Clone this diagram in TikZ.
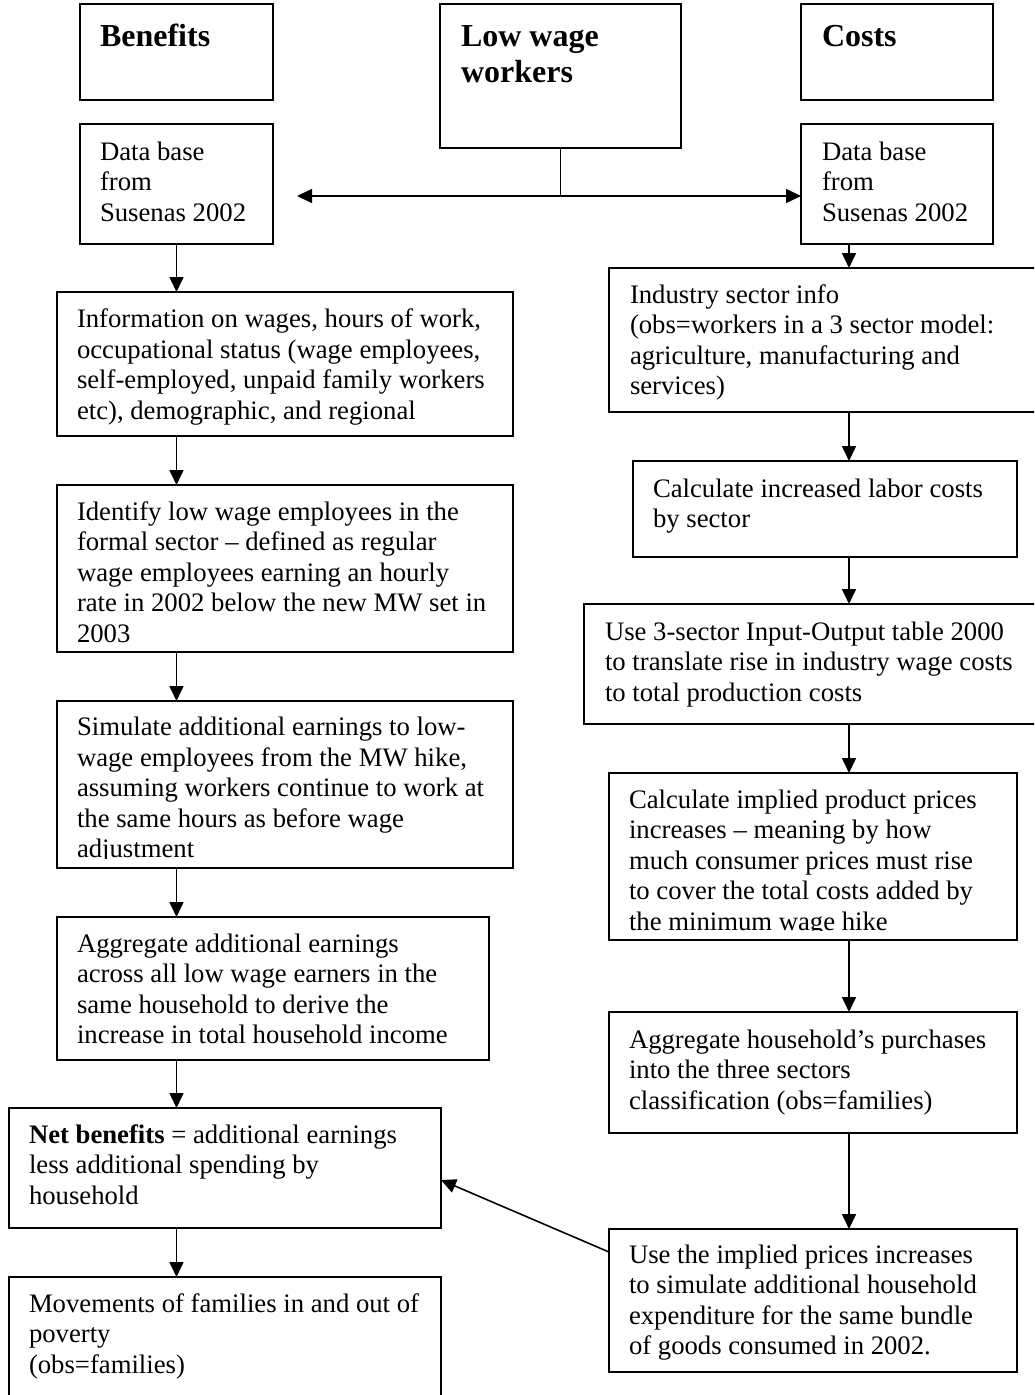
\documentclass[tikz,border=0pt]{standalone}
\usepackage{fontspec}
\setmainfont{Liberation Serif}
\usetikzlibrary{arrows.meta,calc}
\newcommand\sk{\rule{0pt}{24pt}}
\newcommand\skb{\rule{0pt}{30pt}}
\begin{document}
\begin{tikzpicture}[x=1pt,y=-1pt,
  box/.style={draw, line width=1.7pt, inner sep=0pt, outer sep=0pt, anchor=north west},
  txt/.style={inner sep=0pt, outer sep=0pt, anchor=north west, align=left, font=\fontsize{26.7}{30.5}\selectfont},
  ttl/.style={inner sep=0pt, outer sep=0pt, anchor=north west, align=left, font=\fontsize{32}{36}\selectfont\bfseries},
  conn/.style={line width=1.6pt},
  arr/.style={line width=1.6pt, -{Triangle[length=15pt,width=14pt]}}]
\useasboundingbox (0,0) rectangle (1034,1395);
\clip (0,0) rectangle (1034,1395);

% top boxes
\node[box, minimum width=193pt, minimum height=96pt] (ben) at (80,4) {};
\node[box, minimum width=241pt, minimum height=144pt] (low) at (440,4) {};
\node[box, minimum width=192pt, minimum height=96pt] (cost) at (801,4) {};
\node[ttl] (tben) at ([shift={(20,12)}]ben.north west) {\skb Benefits};
\node[ttl] (tlow) at ([shift={(21,12)}]low.north west) {\skb Low wage\\workers};
\node[ttl] (tcost) at ([shift={(21,12)}]cost.north west) {\skb Costs};

% data base boxes
\node[box, minimum width=193pt, minimum height=120pt] (dbL) at (80,124) {};
\node[box, minimum width=192pt, minimum height=120pt] (dbR) at (801,124) {};
\node[txt] (tdbL) at ([shift={(20,12)}]dbL.north west) {\sk Data base\\from\\Susenas 2002};
\node[txt] (tdbR) at ([shift={(21,12)}]dbR.north west) {\sk Data base\\from\\Susenas 2002};

% left column
\node[box, minimum width=456pt, minimum height=144pt] (info) at (57,292) {};
\node[txt] (tinfo) at ([shift={(20,11.5)}]info.north west) {\sk Information on wages, hours of work,\\occupational status (wage employees,\\self-employed, unpaid family workers\\etc), demographic, and regional};

\node[box, minimum width=456pt, minimum height=167pt] (ident) at (57,485) {};
\node[txt] (tident) at ([shift={(20,11)}]ident.north west) {\sk Identify low wage employees in the\\formal sector -- defined as regular\\wage employees earning an hourly\\rate in 2002 below the new MW set in\\2003};

\node[box, minimum width=456pt, minimum height=167pt] (simu) at (57,701) {};
\begin{scope}
\clip (simu.north west) rectangle ([yshift=10pt]simu.south east);
\node[txt] (tsimu) at ([shift={(20,10.5)}]simu.north west) {\sk Simulate additional earnings to low-\\wage employees from the MW hike,\\assuming workers continue to work at\\the same hours as before wage\\adjustment};
\end{scope}

\node[box, minimum width=432pt, minimum height=143pt] (aggL) at (57,917) {};
\node[txt] (taggL) at ([shift={(20,11)}]aggL.north west) {\sk Aggregate additional earnings\\across all low wage earners in the\\same household to derive the\\increase in total household income};

\node[box, minimum width=432pt, minimum height=120pt] (net) at (9,1108) {};
\node[txt] (tnet) at ([shift={(20,11)}]net.north west) {\sk\textbf{Net benefits} = additional earnings\\less additional spending by\\household};

\node[box, minimum width=432pt, minimum height=140pt] (move) at (9,1277) {};
\node[txt] (tmove) at ([shift={(20,11)}]move.north west) {\sk Movements of families in and out of\\poverty\\(obs=families)};

% right column
\node[box, minimum width=431pt, minimum height=144pt] (ind) at (609,268) {};
\node[txt] (tind) at ([shift={(21,11)}]ind.north west) {\sk Industry sector info\\(obs=workers in a 3 sector model:\\agriculture, manufacturing and\\services)};

\node[box, minimum width=384pt, minimum height=96pt] (lab) at (633,461) {};
\node[txt] (tlab) at ([shift={(20,12)}]lab.north west) {\sk Calculate increased labor costs\\by sector};

\node[box, minimum width=456pt, minimum height=120pt] (io) at (584,604) {};
\node[txt] (tio) at ([shift={(21,12)}]io.north west) {\sk Use 3-sector Input-Output table 2000\\to translate rise in industry wage costs\\to total production costs};

\node[box, minimum width=408pt, minimum height=167pt] (impl) at (609,773) {};
\begin{scope}
\clip (impl.north west) rectangle ([yshift=10pt]impl.south east);
\node[txt] (timpl) at ([shift={(20,11)}]impl.north west) {\sk Calculate implied product prices\\increases -- meaning by how\\much consumer prices must rise\\to cover the total costs added by\\the minimum wage hike};
\end{scope}

\node[box, minimum width=408pt, minimum height=121pt] (aggR) at (609,1012) {};
\node[txt] (taggR) at ([shift={(20,12)}]aggR.north west) {\sk Aggregate household’s purchases\\into the three sectors\\classification (obs=families)};

\node[box, minimum width=408pt, minimum height=143pt] (useimp) at (609,1229) {};
\node[txt] (tuseimp) at ([shift={(20,10)}]useimp.north west) {\sk Use the implied prices increases\\to simulate additional household\\expenditure for the same bundle\\of goods consumed in 2002.};

% connectors
\coordinate (jn) at (low.south |- 0,196);
\draw[conn] (low.south) -- (jn);
\draw[arr] (jn) -- ($(jn -| dbL.east)+(24,0)$);
\draw[arr] (jn) -- (jn -| dbR.west);

\coordinate (lx) at (176.5,0);
\draw[arr] (lx |- dbL.south) -- (lx |- info.north);
\draw[arr] (lx |- info.south) -- (lx |- ident.north);
\draw[arr] (lx |- ident.south) -- (lx |- simu.north);
\draw[arr] (lx |- simu.south) -- (lx |- aggL.north);
\draw[arr] (lx |- aggL.south) -- (lx |- net.north);
\draw[arr] (lx |- net.south) -- (lx |- move.north);

\coordinate (cx) at (849,0);
\draw[arr] (cx |- dbR.south) -- (cx |- ind.north);
\draw[arr] (cx |- ind.south) -- (cx |- lab.north);
\draw[arr] (cx |- lab.south) -- (cx |- io.north);
\draw[arr] (cx |- io.south) -- (cx |- impl.north);
\draw[arr] (cx |- impl.south) -- (cx |- aggR.north);
\draw[arr] (cx |- aggR.south) -- (cx |- useimp.north);

\draw[arr] ([yshift=-23pt]useimp.north west) -- ([yshift=-72pt]net.north east);
\end{tikzpicture}
\end{document}
